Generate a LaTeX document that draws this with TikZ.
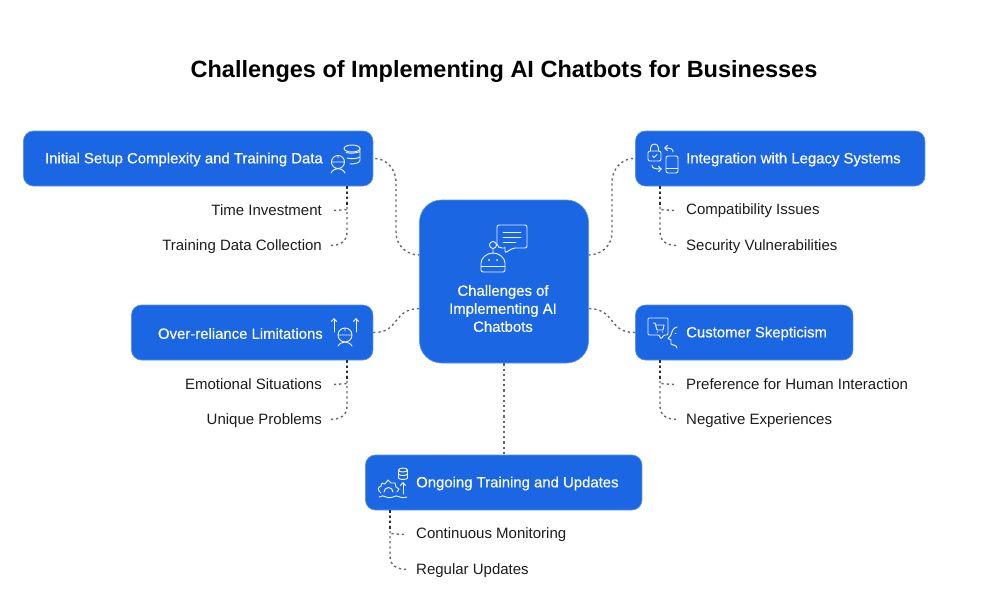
\documentclass[tikz,border=0pt]{standalone}
\usepackage{fontspec}
\setmainfont{Liberation Sans}
\newfontfamily\medfont[FakeBold=0.35]{Liberation Sans}
\usetikzlibrary{arrows.meta}
\definecolor{boxblue}{HTML}{1A66E3}
\definecolor{boxedge}{HTML}{5C93EC}
\definecolor{linkgray}{HTML}{666666}
\definecolor{trunkdark}{HTML}{2E2E2E}
\definecolor{labelink}{HTML}{1C1C1C}
\tikzset{
  x=1pt,y=-1pt,
  box/.style={draw=boxedge,line width=0.6pt,fill=boxblue,rounded corners=10pt,inner sep=0pt},
  boxtext/.style={text=white,font=\medfont\fontsize{14.9}{18}\selectfont,inner sep=0pt},
  sublabel/.style={text=labelink,font=\fontsize{15}{18}\selectfont,inner sep=0pt},
  link/.style={draw=linkgray,line width=1.4pt,dash pattern=on 2.2pt off 3pt},
  trunk/.style={draw=trunkdark,line width=1.8pt,dash pattern=on 2.6pt off 2.6pt},
  ico/.style={draw=white,line width=0.95pt,line cap=round,line join=round,opacity=0.92},
  icoarrow/.style={ico,-{Straight Barb[length=3pt,width=5.5pt]}},
}
\begin{document}
\begin{tikzpicture}
\useasboundingbox (0,0) rectangle (1008,591);
\node[inner sep=0pt,font=\bfseries\fontsize{23.5}{28}\selectfont,text=black] (title) at (504,71) {Challenges of Implementing AI Chatbots for Businesses};

% boxes
\node[box,rounded corners=22pt,minimum width=169pt,minimum height=163pt] (hub) at (504,281.5) {};
\node[box,minimum width=349.5pt,minimum height=55pt] (setup) at (198.2,158.5) {};
\node[box,minimum width=289.5pt,minimum height=55pt] (legacy) at (780.2,158.5) {};
\node[box,minimum width=241.5pt,minimum height=55pt] (reliance) at (252.2,332.5) {};
\node[box,minimum width=217.5pt,minimum height=55pt] (skeptic) at (744.2,332.5) {};
\node[box,minimum width=276.5pt,minimum height=55pt] (ongoing) at (503.7,482.5) {};

% box texts
\node[boxtext,align=center] (hubtext) at (503,308.5) {Challenges of\\Implementing AI\\Chatbots};
\node[boxtext,anchor=east] (setuptext) at (323,159.5) {Initial Setup Complexity and Training Data};
\node[boxtext,anchor=west] (legacytext) at (686,159.5) {Integration with Legacy Systems};
\node[boxtext,anchor=east] (reliancetext) at (323,333.5) {Over-reliance Limitations};
\node[boxtext,anchor=west] (skeptictext) at (686,333.5) {Customer Skepticism};
\node[boxtext,anchor=west] (ongoingtext) at (416,483.5) {Ongoing Training and Updates};

% sub labels
\node[sublabel,anchor=east] (time) at (322,210.5) {Time Investment};
\node[sublabel,anchor=east] (collect) at (322,246.5) {Training Data Collection};
\node[sublabel,anchor=west] (compat) at (686,210.5) {Compatibility Issues};
\node[sublabel,anchor=west] (secur) at (686,246.5) {Security Vulnerabilities};
\node[sublabel,anchor=east] (emo) at (322,384.5) {Emotional Situations};
\node[sublabel,anchor=east] (uniq) at (322,420.5) {Unique Problems};
\node[sublabel,anchor=west] (pref) at (686,384.5) {Preference for Human Interaction};
\node[sublabel,anchor=west] (neg) at (686,420.5) {Negative Experiences};
\node[sublabel,anchor=west] (monitor) at (416,534.5) {Continuous Monitoring};
\node[sublabel,anchor=west] (regular) at (416,570.5) {Regular Updates};

% hub connectors
\draw[link] (setup.east) ++(2,0) .. controls (385,158.5) and (396,168) .. (396,182) -- (396,232) .. controls (396,246) and (407,255) .. (hub.west |- 0,255);
\draw[link] (legacy.west) ++(-2,0) .. controls (623,158.5) and (612,168) .. (612,182) -- (612,232) .. controls (612,246) and (601,255) .. (hub.east |- 0,255);
\draw[link] (reliance.east) .. controls (400,333) and (392,309) .. (hub.west |- 0,308.5);
\draw[link] (skeptic.west) .. controls (608,333) and (616,309) .. (hub.east |- 0,308.5);
\draw[link] (hub.south -| 504,0) -- (ongoing.north -| 504,0);

% branches: setup
\draw[link] (time.east) ++(12,0) -- (347,209.5);
\draw[link] (347,186) -- (347,232) .. controls (347,241) and (341,245.5) .. ([xshift=8pt,yshift=1pt]collect.east);
\draw[trunk] (setup.south -| 347,0) -- (347,207);
% branches: legacy
\draw[link] (compat.west) ++(-12,0) -- (660,209.5);
\draw[link] (660,186) -- (660,232) .. controls (660,241) and (666,245.5) .. ([xshift=-8pt,yshift=1pt]secur.west);
\draw[trunk] (legacy.south -| 660,0) -- (660,207);
% branches: reliance
\draw[link] (emo.east) ++(12,0) -- (347,383.5);
\draw[link] (347,360) -- (347,406) .. controls (347,415) and (341,419.5) .. ([xshift=8pt,yshift=1pt]uniq.east);
\draw[trunk] (reliance.south -| 347,0) -- (347,381);
% branches: skeptic
\draw[link] (pref.west) ++(-12,0) -- (660,383.5);
\draw[link] (660,360) -- (660,406) .. controls (660,415) and (666,419.5) .. ([xshift=-8pt,yshift=1pt]neg.west);
\draw[trunk] (skeptic.south -| 660,0) -- (660,381);
% branches: ongoing
\draw[link] (monitor.west) ++(-12,0) -- (390,533.5);
\draw[link] (390,510) -- (390,556) .. controls (390,565) and (396,569.5) .. ([xshift=-8pt,yshift=1pt]regular.west);
\draw[trunk] (ongoing.south -| 390,0) -- (390,531);

% icon: hub
\draw[ico,rounded corners=2pt] (504.5,248) -- (500,248) -- (497,246) -- (497,225) -- (527,225) -- (527,248) -- (513,248) -- (505,253) -- (505,247);
\draw[ico] (503,232) -- (521,232) (503,237) -- (521,237) (503,242) -- (516,242);
\draw[ico] (493,245) circle (3.5) (493,248.5) -- (493,253);
\draw[ico,rounded corners=2pt] (481,272) -- (481,265) arc (180:360:12) -- (505,272) -- cycle;
\draw[ico] (481,266) -- (505,266);
\fill[white] (489,260) circle (1) (497,260) circle (1);

% icon: person + database (setup)
\draw[ico] (338,162) circle (6.5) (331.5,162) -- (344.5,162) (338,155.5) -- (338,158);
\draw[ico] (331,173) .. controls (333,169.5) and (335,169) .. (338,168.5) .. controls (341,169) and (343,169.5) .. (345,173);
\draw[ico] (352,148.5) ellipse (8 and 3.5);
\draw[ico] (346,152.5) .. controls (350,153.5) and (356,153.5) .. (360,151.5) (347,158) .. controls (351,159) and (357,159) .. (360,157) (350,164) .. controls (355,164) and (360,163) .. (360,160) -- (360,148.5);

% icon: lock + phone (legacy)
\draw[ico,rounded corners=2pt] (648,151) rectangle (661,161);
\draw[ico] (650.5,151) -- (650.5,148) arc (180:360:4) -- (658.5,151);
\draw[ico] (652.5,156) -- (654,157.5) -- (657,154.5);
\draw[icoarrow] (673,152) .. controls (673,149) and (671,148) .. (664,148);
\draw[icoarrow] (652,165) .. controls (652,168) and (654,169) .. (662,169);
\draw[ico,rounded corners=2pt] (666,156) rectangle (678,173);
\draw[ico] (666,168) -- (678,168);

% icon: person + arrows (reliance)
\draw[icoarrow] (334,332) -- (334,318);
\draw[icoarrow] (356,332) -- (356,318);
\draw[ico] (345,335) circle (7) (338,335) -- (352,335) (345,328) -- (345,331);
\draw[ico] (338,346) .. controls (340,343) and (342,342.5) .. (345,342) .. controls (348,342.5) and (350,343) .. (352,346);

% icon: chat + face (skeptic)
\draw[ico,rounded corners=1pt] (648,318) -- (668,318) -- (668,335) -- (664,335) -- (661,339) -- (659,335) -- (648,335) -- cycle;
\draw[ico] (653,323) -- (655,323) -- (657,330) -- (663,330) -- (664,325) -- (655.5,325);
\fill[white] (657.5,332) circle (0.7) (662.5,332) circle (0.7);
\draw[ico] (677,327) .. controls (673,328) and (672,331) .. (671,335) -- (668,338.5) -- (671,340) -- (671,344) -- (676,346) -- (677,348);
\draw[ico] (675,333) -- (676,333);

% icon: gear + database (ongoing)
\draw[ico] (403,470) ellipse (4.5 and 2);
\draw[ico] (398.5,470) -- (398.5,478) .. controls (399,480) and (407,480) .. (407.5,478) -- (407.5,470);
\draw[ico] (398.5,474) .. controls (399,476) and (407,476) .. (407.5,474);
\draw[icoarrow] (403,494) -- (403,482);
\draw[ico] (381,493) .. controls (377,490) and (378,487) .. (381,486) -- (382,483) -- (385,484) -- (388,480) -- (391,483) -- (395,483) -- (396,487) -- (399,489) -- (397,492);
\draw[ico] (384,492) arc (180:360:4.5);
\draw[ico] (379,497) .. controls (382,495.5) and (384,495.5) .. (386,497) .. controls (388,498) and (390,498) .. (393,497) .. controls (395,495.5) and (397,495.5) .. (400,497) .. controls (402,498) and (404,498) .. (407,497);
\end{tikzpicture}
\end{document}
